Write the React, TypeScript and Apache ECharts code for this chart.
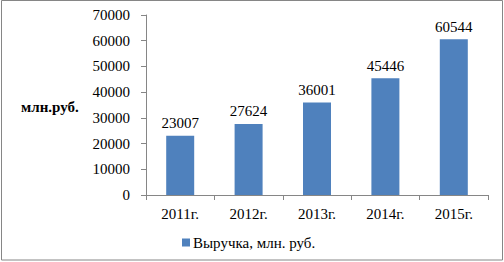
import React, { useEffect, useRef } from "react";
import * as echarts from "echarts";

const categories = ["2011г.", "2012г.", "2013г.", "2014г.", "2015г."];
const revenue = [23007, 27624, 36001, 45446, 60544];
const seriesName = "Выручка, млн. руб.";
const yAxisTitle = "млн.руб.";
const yMin = 0;
const yMax = 70000;
const yInterval = 10000;

const FONT = "Liberation Serif";

export default function App() {
  const ref = useRef<HTMLDivElement>(null);
  useEffect(() => {
    if (!ref.current) return;
    const chart = echarts.init(ref.current, null, { renderer: "svg" });
    chart.setOption({
      animation: false,
      backgroundColor: "#ffffff",
      textStyle: { fontFamily: FONT, color: "#000" },
      grid: { left: 146, right: 16, top: 15, bottom: 67, containLabel: false },
      legend: {
        left: 177,
        top: 230,
        icon: "rect",
        itemWidth: 8,
        itemHeight: 8,
        itemGap: 4,
        textStyle: { fontFamily: FONT, fontSize: 15, color: "#000", padding: [0, 0, 0, -2] },
        data: [seriesName],
      },
      xAxis: {
        type: "category",
        data: categories,
        axisLine: { show: true, lineStyle: { color: "#868686", width: 1 } },
        axisTick: { show: true, alignWithLabel: false, length: 5, lineStyle: { color: "#868686" } },
        axisLabel: { fontFamily: FONT, fontSize: 15, color: "#000", margin: 11 },
        splitLine: { show: false },
      },
      yAxis: {
        type: "value",
        min: yMin,
        max: yMax,
        interval: yInterval,
        axisLine: { show: true, lineStyle: { color: "#868686", width: 1 } },
        axisTick: { show: true, length: 5, lineStyle: { color: "#868686" } },
        axisLabel: {
          fontFamily: FONT,
          fontSize: 15,
          color: "#000",
          margin: 16,
          formatter: (v: number) => String(v),
        },
        splitLine: { show: false },
      },
      series: [
        {
          name: seriesName,
          type: "bar",
          data: revenue,
          barWidth: 28,
          itemStyle: { color: "#4F81BD" },
          label: {
            show: true,
            position: "top",
            distance: 5,
            fontFamily: FONT,
            fontSize: 15,
            color: "#000",
          },
        },
      ],
      graphic: [
        {
          type: "rect",
          shape: { x: 1.5, y: 0.5, width: 501, height: 259.5 },
          style: { fill: "none", stroke: "#868686", lineWidth: 1 },
          silent: true,
        },
        {
          type: "text",
          x: 21,
          y: 107,
          style: {
            text: yAxisTitle,
            fontFamily: FONT,
            fontWeight: "bold",
            fontSize: 15,
            fill: "#000",
            verticalAlign: "middle",
          },
        },
      ],
    });
    return () => chart.dispose();
  }, []);
  return (
    <div
      ref={ref}
      style={{ position: "absolute", left: 0, top: 0, width: 504, height: 262 }}
    />
  );
}
